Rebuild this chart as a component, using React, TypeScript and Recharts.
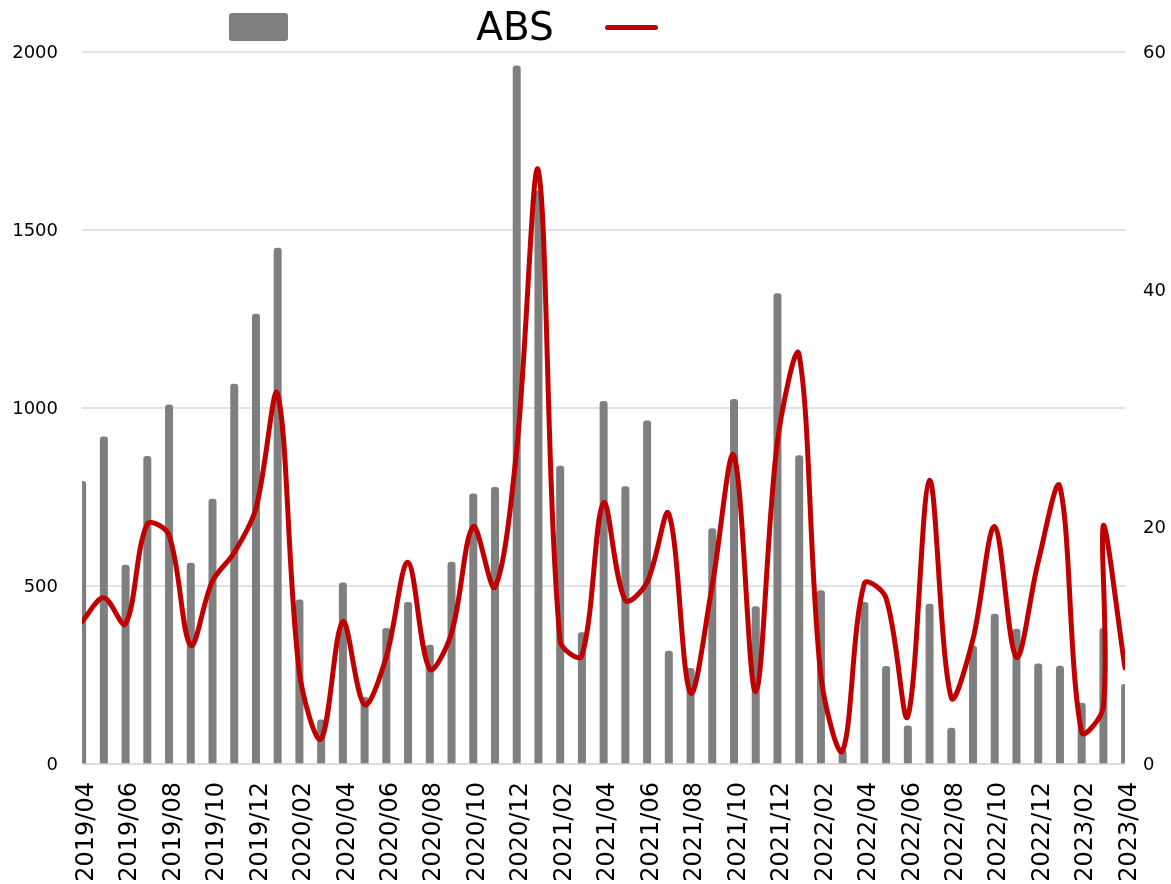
import { Bar, CartesianGrid, ComposedChart, Legend, Line, XAxis, YAxis } from "recharts"

const months = [
  '2019/04', '2019/05', '2019/06', '2019/07', '2019/08', '2019/09', '2019/10', '2019/11', '2019/12',
  '2020/01', '2020/02', '2020/03', '2020/04', '2020/05', '2020/06', '2020/07', '2020/08', '2020/09',
  '2020/10', '2020/11', '2020/12', '2021/01', '2021/02', '2021/03', '2021/04', '2021/05', '2021/06',
  '2021/07', '2021/08', '2021/09', '2021/10', '2021/11', '2021/12', '2022/01', '2022/02', '2022/03',
  '2022/04', '2022/05', '2022/06', '2022/07', '2022/08', '2022/09', '2022/10', '2022/11', '2022/12',
  '2023/01', '2023/02', '2023/03', '2023/04',
]

// bars, left axis
const absValues = [
  795, 920, 560, 865, 1010, 565, 745, 1068, 1265,
  1450, 462, 125, 510, 188, 382, 455, 335, 568,
  760, 778, 1962, 1610, 838, 370, 1020, 780, 965,
  318, 270, 662, 1025, 443, 1322, 867, 488, 40,
  455, 275, 108, 450, 102, 332, 422, 380, 282,
  276, 172, 382, 225,
]

// line, right axis (2023/03 has two readings)
const lineMonths = [...months.slice(0, 47), '2023/03', '2023/03', '2023/04']
const lineValues = [
  12.0, 14.0, 11.8, 20.2, 19.3, 10.0, 15.4, 17.8, 21.5,
  31.2, 7.8, 2.1, 12.0, 5.0, 9.0, 17.0, 8.0, 11.0,
  20.0, 14.9, 26.4, 50.0, 10.4, 9.1, 22.0, 13.8, 15.3,
  21.1, 6.0, 15.0, 26.0, 6.1, 27.1, 34.5, 7.5, 1.1,
  15.2, 14.0, 4.0, 23.9, 5.6, 10.5, 20.0, 9.0, 17.0,
  23.4, 2.7, 4.8, 20.1, 8.1,
]

const leftTicks = [0, 500, 1000, 1500, 2000]
const rightTicks = [0, 20, 40, 60]

const barData = months.map((m, i) => ({ idx: i, abs: absValues[i] }))
const lineData = lineMonths.map((m, i) => ({ t: months.indexOf(m), v: lineValues[i] }))
const xTicks = months.map((_, i) => i).filter((i) => i % 2 === 0)

const FONT = '"DejaVu Sans", Verdana, sans-serif'

// smooth curve through the points, similar to a spreadsheet "smoothed line"
const smoothCurve = (context: any) => {
  let pts: number[][] = []
  const dist = (a: number[], b: number[]) => Math.hypot(b[0] - a[0], b[1] - a[1])
  return {
    areaStart() {},
    areaEnd() {},
    lineStart() { pts = [] },
    point(x: number, y: number) { pts.push([+x, +y]) },
    lineEnd() {
      const n = pts.length
      if (!n) return
      context.moveTo(pts[0][0], pts[0][1])
      for (let i = 0; i < n - 1; i++) {
        const p0 = pts[i - 1] || pts[i]
        const p1 = pts[i]
        const p2 = pts[i + 1]
        const p3 = pts[i + 2] || p2
        const d01 = dist(p0, p1), d12 = dist(p1, p2), d23 = dist(p2, p3)
        const k1 = d01 + d12 > 0 ? d12 / (d01 + d12) / 3 : 0
        const k2 = d12 + d23 > 0 ? d12 / (d12 + d23) / 3 : 0
        context.bezierCurveTo(
          p1[0] + (p2[0] - p0[0]) * k1, p1[1] + (p2[1] - p0[1]) * k1,
          p2[0] - (p3[0] - p1[0]) * k2, p2[1] - (p3[1] - p1[1]) * k2,
          p2[0], p2[1],
        )
      }
    },
  }
}

const MonthTick = ({ x, y, payload }: any) => (
  <g transform={`translate(${x},${y + 10}) rotate(-90)`}>
    <text textAnchor="end" dy="0.45em" fontSize={24} fontFamily={FONT} fill="#000">
      {months[payload.value]}
    </text>
  </g>
)

const renderLegend = () => (
  <div style={{ position: 'relative', height: 44, fontFamily: FONT }}>
    <div style={{ position: 'absolute', left: 221, top: 5, width: 59, height: 28, background: '#7f7f7f', borderRadius: 3 }} />
    <div style={{ position: 'absolute', left: 432, top: -4, width: 150, textAlign: 'center', fontSize: 39, color: '#000' }}>ABS</div>
    <div style={{ position: 'absolute', left: 597, top: 17, width: 53, height: 5, background: '#c00000', borderRadius: 3 }} />
  </div>
)

export default function App() {
  return (
    <div style={{ position: 'fixed', top: 8, left: 8, width: 1163, height: 876 }}>
      <ComposedChart width={1163} height={876} data={barData} margin={{ top: 44, right: 0, bottom: 0, left: 0 }}>
        <CartesianGrid vertical={false} stroke="#d9d9d9" strokeWidth={1.5} xAxisId="bar" yAxisId="left" />
        <XAxis
          xAxisId="bar"
          type="number"
          dataKey="idx"
          domain={[0, 48]}
          ticks={xTicks}
          interval={0}
          allowDataOverflow
          height={120}
          tickLine={false}
          axisLine={{ stroke: '#d9d9d9', strokeWidth: 1.5 }}
          tick={<MonthTick />}
        />
        <XAxis xAxisId="line" type="number" dataKey="t" domain={[0, 48]} allowDataOverflow hide />
        <YAxis
          yAxisId="left"
          orientation="left"
          domain={[0, 2000]}
          ticks={leftTicks}
          width={74}
          tickLine={false}
          axisLine={false}
          tickSize={0}
          tickMargin={24}
          tick={{ fontSize: 18, fontFamily: FONT, fill: '#000' }}
        />
        <YAxis
          yAxisId="right"
          orientation="right"
          domain={[0, 60]}
          ticks={rightTicks}
          width={46}
          tickLine={false}
          axisLine={false}
          tickSize={0}
          tickMargin={18}
          tick={{ fontSize: 18, fontFamily: FONT, fill: '#000', textAnchor: 'start' }}
        />
        <Legend verticalAlign="middle" align="center" content={renderLegend} wrapperStyle={{ top: 0, left: 0, width: 1163, height: 44 }} />
        <Bar xAxisId="bar" yAxisId="left" dataKey="abs" barSize={8} fill="#7f7f7f" radius={[3, 3, 0, 0]} isAnimationActive={false} />
        <Line
          xAxisId="line"
          yAxisId="right"
          data={lineData}
          dataKey="v"
          type={smoothCurve as any}
          stroke="#c00000"
          strokeWidth={5}
          strokeLinecap="round"
          strokeLinejoin="round"
          dot={false}
          activeDot={false}
          isAnimationActive={false}
        />
      </ComposedChart>
    </div>
  )
}
